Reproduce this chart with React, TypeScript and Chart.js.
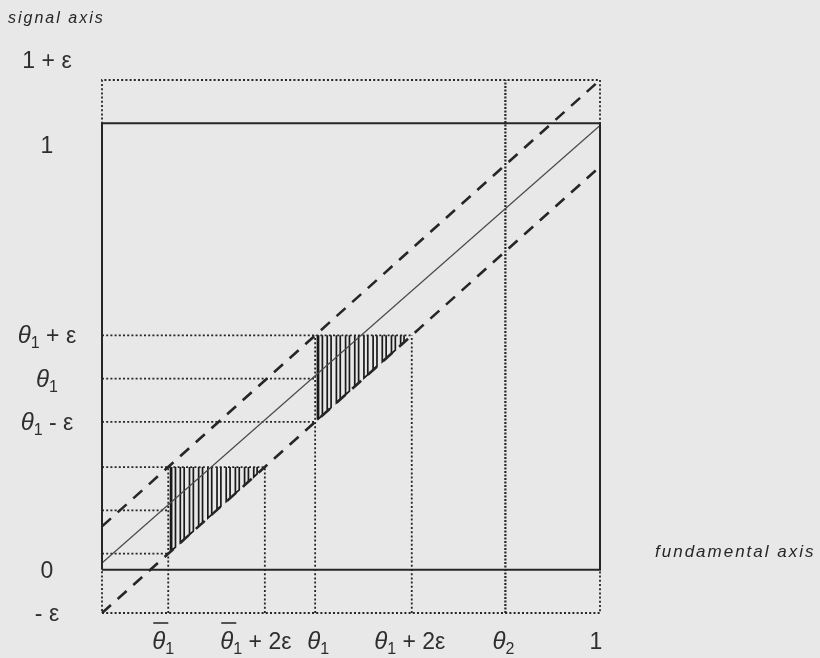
import { useEffect, useRef } from "react";
import { Chart, registerables } from "chart.js";

Chart.register(...registerables);

// Model parameters, in units of the fundamental / signal axes
const epsilon = 0.097;
const thetaBar1 = 0.133;
const theta1 = 0.428;
const theta2 = 0.81;

// Hand hatching: U-shaped stroke pairs (fractions of the 2ε window right of a threshold)
const hatchPairs: [number, number][] = [
  [0.035, 0.075],
  [0.125, 0.165],
  [0.22, 0.26],
  [0.315, 0.355],
  [0.41, 0.45],
  [0.505, 0.545],
  [0.6, 0.64],
  [0.695, 0.735],
  [0.79, 0.83],
  [0.885, 0.92],
];

type Part = { text: string; italic?: boolean; sub?: boolean; bar?: boolean };

const TH = (n: string, bar = false): Part[] => [
  { text: "θ", italic: true, bar },
  { text: n, sub: true },
];

// Tick labels on the signal (vertical) axis
const signalTicks: { value: number; parts: Part[] }[] = [
  { value: 1 + epsilon, parts: [{ text: "1 + ε" }] },
  { value: 1, parts: [{ text: "1" }] },
  { value: theta1 + epsilon, parts: [...TH("1"), { text: " + ε" }] },
  { value: theta1, parts: TH("1") },
  { value: theta1 - epsilon, parts: [...TH("1"), { text: " - ε" }] },
  { value: 0, parts: [{ text: "0" }] },
  { value: -epsilon, parts: [{ text: "- ε" }] },
];
const signalNudgeY = [-20, 22, 0, 0, 0, 0, 0];

// Tick labels on the fundamental (horizontal) axis
const fundamentalTicks: { value: number; parts: Part[] }[] = [
  { value: thetaBar1, parts: TH("1", true) },
  { value: thetaBar1 + 2 * epsilon, parts: [...TH("1", true), { text: " + 2ε" }] },
  { value: theta1, parts: TH("1") },
  { value: theta1 + 2 * epsilon, parts: [...TH("1"), { text: " + 2ε" }] },
  { value: theta2, parts: TH("2") },
  { value: 1, parts: [{ text: "1" }] },
];
const fundamentalNudgeX = [-5, -9, 3, -2, -2, -4];

const INK = "#262626";
const TEXT = "#2e2e2e";
const BG = "#e8e8e8";
const FONT = '"Liberation Sans", Arial, sans-serif';

type Pt = { x: number; y: number };

function seg(points: Pt[], style: Record<string, unknown>) {
  return {
    data: points,
    showLine: true,
    pointRadius: 0,
    pointHoverRadius: 0,
    fill: false,
    tension: 0,
    clip: false as const,
    borderCapStyle: "butt" as const,
    ...style,
  };
}

function buildDatasets() {
  const e = epsilon;
  const solid = { borderColor: INK, borderWidth: 2 };
  const dotted = { borderColor: INK, borderWidth: 1.8, borderDash: [2, 2.2] };
  const dashed = { borderColor: INK, borderWidth: 2.6, borderDash: [12, 9] };
  const sets: any[] = [];

  // unit square
  sets.push(
    seg(
      [
        { x: 0, y: 0 },
        { x: 1, y: 0 },
        { x: 1, y: 1 },
        { x: 0, y: 1 },
        { x: 0, y: 0 },
      ],
      solid
    )
  );
  // outer ε-box
  sets.push(
    seg(
      [
        { x: 0, y: -e },
        { x: 1, y: -e },
        { x: 1, y: 1 + e },
        { x: 0, y: 1 + e },
        { x: 0, y: -e },
      ],
      dotted
    )
  );
  // signal = fundamental
  sets.push(
    seg(
      [
        { x: 0, y: 0.015 },
        { x: 1, y: 0.995 },
      ],
      { borderColor: "#4a4a4a", borderWidth: 1.2 }
    )
  );
  // noise band ±ε
  sets.push(seg([{ x: 0, y: e }, { x: 1, y: 1 + e }], dashed));
  sets.push(seg([{ x: 0, y: -e }, { x: 1, y: 1 - e }], dashed));

  // guide lines for each threshold
  for (const t of [thetaBar1, theta1]) {
    sets.push(seg([{ x: 0, y: t + e }, { x: t + 2 * e, y: t + e }], dotted));
    sets.push(seg([{ x: 0, y: t }, { x: t, y: t }], dotted));
    sets.push(seg([{ x: 0, y: t - e }, { x: t, y: t - e }], dotted));
    sets.push(seg([{ x: t, y: -e }, { x: t, y: t + e }], dotted));
    sets.push(seg([{ x: t + 2 * e, y: -e }, { x: t + 2 * e, y: t + e }], dotted));

    // hatched region between the top guide and the lower band edge
    for (const [a, b] of hatchPairs) {
      const xa = t + 2 * e * a;
      const xb = t + 2 * e * b;
      sets.push(
        seg(
          [
            { x: xa, y: t + e },
            { x: xa, y: xa - e },
            { x: xb, y: xb - e },
            { x: xb, y: t + e },
          ],
          { borderColor: "#1a1a1a", borderWidth: 1.7 }
        )
      );
    }
    // bold left edge of the hatching
    sets.push(
      seg(
        [
          { x: t + 0.005, y: t + e },
          { x: t + 0.005, y: t - e + 0.005 },
        ],
        { borderColor: "#1a1a1a", borderWidth: 2 }
      )
    );
  }

  // second threshold
  sets.push(
    seg([{ x: theta2, y: -e }, { x: theta2, y: 1 + e }], {
      borderColor: INK,
      borderWidth: 2.2,
      borderDash: [2, 1.5],
    })
  );
  return sets;
}

function partFont(p: Part) {
  if (p.sub) return `16px ${FONT}`;
  if (p.italic) return `italic 24px ${FONT}`;
  return `23px ${FONT}`;
}

function measureParts(ctx: CanvasRenderingContext2D, parts: Part[]) {
  let w = 0;
  for (const p of parts) {
    ctx.font = partFont(p);
    w += ctx.measureText(p.text).width;
  }
  return w;
}

function drawParts(ctx: CanvasRenderingContext2D, parts: Part[], cx: number, baseline: number) {
  let x = cx - measureParts(ctx, parts) / 2;
  ctx.textAlign = "left";
  ctx.textBaseline = "alphabetic";
  for (const p of parts) {
    ctx.font = partFont(p);
    const w = ctx.measureText(p.text).width;
    ctx.fillText(p.text, x, p.sub ? baseline + 5 : baseline);
    if (p.bar) {
      ctx.beginPath();
      ctx.lineWidth = 1.6;
      ctx.strokeStyle = TEXT;
      ctx.moveTo(x + 1, baseline - 26);
      ctx.lineTo(x + w + 3, baseline - 26);
      ctx.stroke();
    }
    x += w;
  }
}

const backgroundPlugin = {
  id: "paper",
  beforeDraw(chart: Chart) {
    const { ctx, width, height } = chart;
    ctx.save();
    ctx.fillStyle = BG;
    ctx.fillRect(0, 0, width, height);
    ctx.restore();
  },
};

const labelsPlugin = {
  id: "axisLabels",
  afterDatasetsDraw(chart: Chart) {
    const { ctx, chartArea } = chart;
    const xs = chart.scales.x;
    const ys = chart.scales.y;
    ctx.save();
    ctx.fillStyle = TEXT;

    signalTicks.forEach((t, i) => {
      const py = ys.getPixelForValue(t.value);
      drawParts(ctx, t.parts, chartArea.left - 55, py + 8 + signalNudgeY[i]);
    });

    fundamentalTicks.forEach((t, i) => {
      const px = xs.getPixelForValue(t.value);
      drawParts(ctx, t.parts, px + fundamentalNudgeX[i], chartArea.bottom + 36);
    });

    // axis names
    (ctx as any).letterSpacing = "2px";
    ctx.textAlign = "left";
    ctx.textBaseline = "alphabetic";
    ctx.fillStyle = "#262626";
    ctx.font = `italic 16px ${FONT}`;
    ctx.fillText("signal axis", 8, 23);
    ctx.font = `italic 17px ${FONT}`;
    ctx.fillText("fundamental axis", chartArea.right + 55, ys.getPixelForValue(0) - 13);
    (ctx as any).letterSpacing = "0px";
    ctx.restore();
  },
};

export default function App() {
  const canvasRef = useRef<HTMLCanvasElement | null>(null);

  useEffect(() => {
    const canvas = canvasRef.current;
    if (!canvas) return;
    const chart = new Chart(canvas, {
      type: "scatter",
      data: { datasets: buildDatasets() },
      options: {
        animation: false,
        responsive: false,
        devicePixelRatio: 1,
        layout: { padding: { left: 102, right: 220, top: 80, bottom: 45 } },
        plugins: {
          legend: { display: false },
          tooltip: { enabled: false },
        },
        events: [],
        scales: {
          x: { type: "linear", min: 0, max: 1, display: false },
          y: { type: "linear", min: -epsilon, max: 1 + epsilon, display: false },
        },
      },
      plugins: [backgroundPlugin, labelsPlugin],
    });
    return () => chart.destroy();
  }, []);

  return (
    <div style={{ position: "fixed", left: 0, top: 0, width: 820, height: 658, background: BG }}>
      <canvas ref={canvasRef} width={820} height={658} style={{ display: "block" }} />
    </div>
  );
}
